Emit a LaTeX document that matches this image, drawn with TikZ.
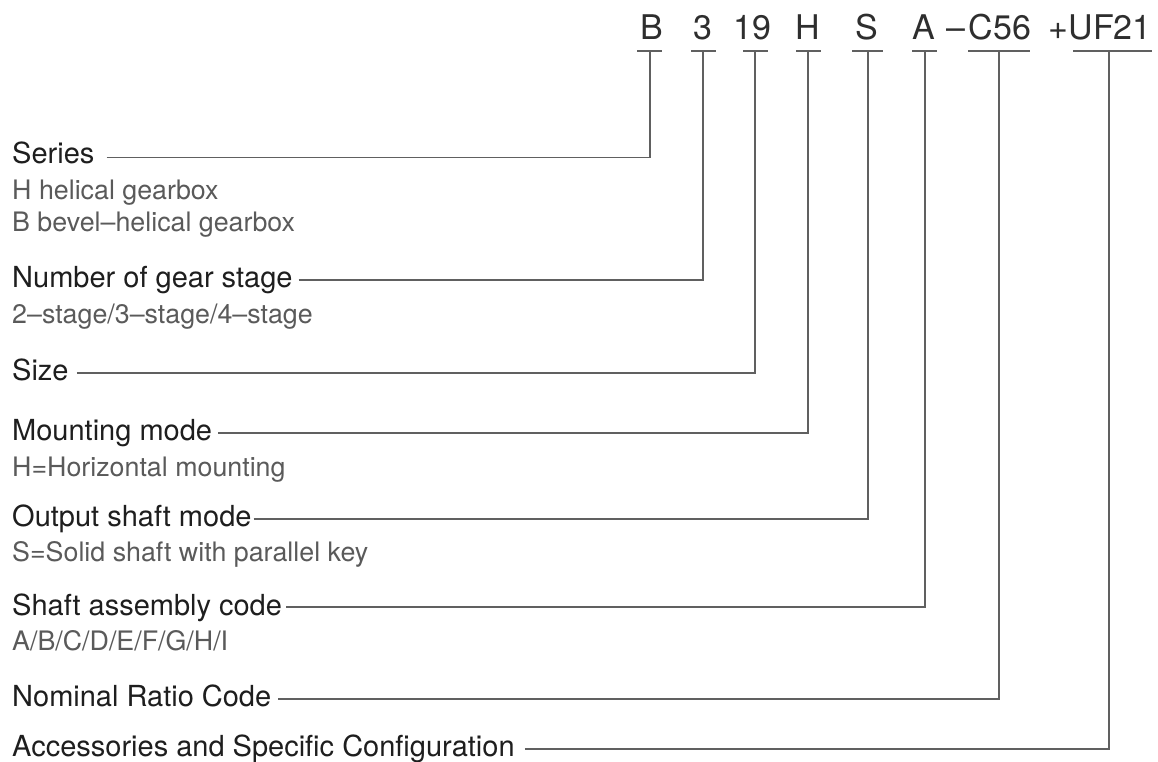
\documentclass[tikz,border=0pt]{standalone}
\usepackage{fontspec}
\setmainfont{TeX Gyre Heros}
\usetikzlibrary{calc}
\definecolor{codec}{HTML}{2E2E2E}
\definecolor{labc}{HTML}{1E1E1E}
\definecolor{subc}{HTML}{5A5A5A}
\definecolor{linec}{HTML}{606060}
\begin{document}
\begin{tikzpicture}[x=1pt,y=-1pt,
  codetxt/.style={inner sep=0pt,anchor=base,text=codec,font=\fontsize{34}{40}\selectfont},
  lab/.style={inner sep=0pt,anchor=base west,text=labc,font=\fontsize{29}{34}\selectfont},
  sub/.style={inner sep=0pt,anchor=base west,text=subc,font=\fontsize{26.8}{32}\selectfont},
  conn/.style={draw=linec,line width=1.5pt}]
\useasboundingbox (0,0) rectangle (1158,762);
\fill[white] (0,0) rectangle (1158,762);

% code letters
\node[codetxt] (c1) at (652,40) {B};
\node[codetxt] (c2) at (703,40) {3};
\node[codetxt] (c3) at (752,40) {19};
\node[codetxt] (c4) at (808,40) {H};
\node[codetxt] (c5) at (867,40) {S};
\node[codetxt] (c6) at (924,40) {A};
\node[codetxt] (c7) at (1000,40) {C56};
\node[codetxt,anchor=base east] (dash) at (966,40) {–};
\node[codetxt] (c8) at (1110,40) {UF21};
\node[codetxt,anchor=base east] (plus) at (1069,40) {+};

% connection points under the codes
\coordinate (v1) at (650,51);
\coordinate (v2) at (703,51);
\coordinate (v3) at (755,51);
\coordinate (v4) at (808,51);
\coordinate (v5) at (868,51);
\coordinate (v6) at (925,51);
\coordinate (v7) at (999,51);
\coordinate (v8) at (1109,51);

% underlines
\draw[conn] (637,51) -- (662,51);
\draw[conn] (691,51) -- (716,51);
\draw[conn] (743,51) -- (768,51);
\draw[conn] (796,51) -- (821,51);
\draw[conn] (852,51) -- (883,51);
\draw[conn] (912,51) -- (937,51);
\draw[conn] (968,51) -- (1030,51);
\draw[conn] (1073,51) -- (1152,51);

% labels
\node[lab] (l1) at (12,164) {Series};
\node[sub] (s1a) at (12,200) {H helical gearbox};
\node[sub] (s1b) at (12,231) {B bevel–helical gearbox};
\node[lab] (l2) at (12,287) {Number of gear stage};
\node[sub] (s2) at (12,323) {2–stage/3–stage/4–stage};
\node[lab] (l3) at (12,380) {Size};
\node[lab] (l4) at (12,440) {Mounting mode};
\node[sub] (s4) at (12,476) {H=Horizontal mounting};
\node[lab] (l5) at (12,526) {Output shaft mode};
\node[sub] (s5) at (12,561) {S=Solid shaft with parallel key};
\node[lab] (l6) at (12,615) {Shaft assembly code};
\node[sub] (s6) at (12,650) {A/B/C/D/E/F/G/H/I};
\node[lab] (l7) at (12,706) {Nominal Ratio Code};
\node[lab] (l8) at (12,756) {Accessories and Specific Configuration};

% connectors
\draw[conn] ($(l1.base east)+(12,-6.5)$) -| (v1);
\draw[conn] ($(l2.base east)+(6,-7)$) -| (v2);
\draw[conn] ($(l3.base east)+(8,-7)$) -| (v3);
\draw[conn] ($(l4.base east)+(6,-7)$) -| (v4);
\draw[conn] ($(l5.base east)+(2,-7)$) -| (v5);
\draw[conn] ($(l6.base east)+(4,-8)$) -| (v6);
\draw[conn] ($(l7.base east)+(7,-7)$) -| (v7);
\draw[conn] ($(l8.base east)+(10,-7)$) -| (v8);
\end{tikzpicture}
\end{document}
